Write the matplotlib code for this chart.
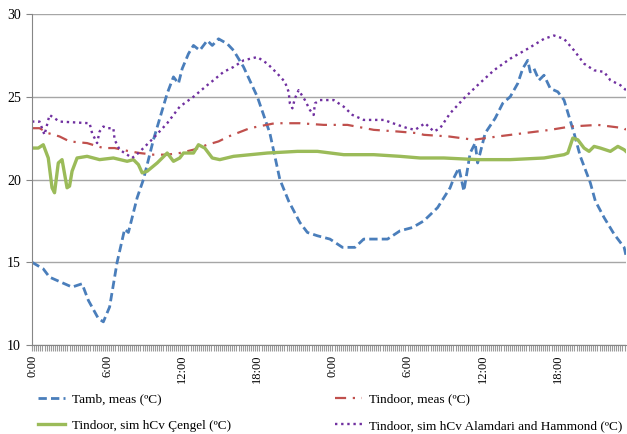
import matplotlib
matplotlib.use("Agg")
import matplotlib.pyplot as plt
from matplotlib.ticker import MultipleLocator

plt.rcParams['font.family'] = ['Liberation Serif', 'DejaVu Serif']

# Time axis in hours from the start of the measurement (two days)
tick_hours = [0, 6, 12, 18, 24, 30, 36, 42]
tick_labels = ["0:00", "6:00", "12:00", "18:00", "0:00", "6:00", "12:00", "18:00"]
x_end = 47.45

# Outdoor air temperature, measured
amb_h = [0, 0.9, 1.4, 3.2, 4.0, 4.5, 5.3, 5.7, 6.2, 6.8, 7.4, 7.7, 8.4, 8.9, 9.7, 10.8,
         11.3, 11.7, 12.0, 12.5, 12.9, 13.4, 14.0, 14.4, 14.9, 15.6, 16.1, 16.9, 18.0,
         19.0, 19.8, 20.5, 21.4, 22.0, 22.8, 23.8, 24.8, 25.8, 26.5, 28.4, 29.4, 30.4,
         31.3, 32.4, 32.9, 33.4, 33.7, 34.1, 34.5, 35.0, 35.4, 35.6, 36.2, 37.0, 37.6,
         38.2, 38.8, 39.2, 39.6, 39.8, 40.1, 40.5, 40.9, 41.4, 42.0, 42.5, 42.9, 43.3,
         43.8, 44.6, 45.0, 45.7, 46.5, 47.3, 47.45]
amb_t = [15.0, 14.6, 14.1, 13.5, 13.7, 12.7, 11.6, 11.4, 12.3, 15.0, 17.0, 16.8, 18.9,
         20.0, 22.4, 25.2, 26.2, 25.8, 26.7, 27.6, 28.1, 27.8, 28.4, 28.1, 28.5, 28.2,
         27.8, 26.8, 25.0, 22.8, 20.0, 18.7, 17.4, 16.8, 16.6, 16.4, 15.9, 15.9, 16.4,
         16.4, 16.9, 17.1, 17.5, 18.3, 18.9, 19.5, 20.1, 20.7, 19.3, 21.6, 22.2, 21.0,
         22.8, 23.7, 24.6, 25.0, 25.8, 26.7, 27.2, 26.5, 26.7, 26.0, 26.3, 25.5, 25.3,
         24.8, 23.8, 22.8, 21.4, 19.8, 18.7, 17.7, 16.7, 15.9, 15.4]

# Indoor air temperature, measured
meas_h = [0, 0.6, 1.3, 2.2, 3.0, 4.4, 5.7, 6.6, 7.8, 8.6, 9.7, 10.8, 11.8, 12.9, 14.0,
          14.9, 15.7, 17.4, 19.4, 21.4, 23.3, 25.2, 27.3, 29.2, 30.8, 31.3, 33.3, 35.3,
          37.2, 39.3, 41.4, 43.0, 45.2, 47.3, 47.45]
meas_t = [23.1, 23.1, 22.8, 22.6, 22.3, 22.2, 21.9, 21.9, 21.7, 21.6, 21.5, 21.5, 21.6,
          21.8, 22.1, 22.3, 22.6, 23.1, 23.4, 23.4, 23.3, 23.3, 23.0, 22.9, 22.8, 22.7,
          22.6, 22.4, 22.6, 22.8, 23.0, 23.2, 23.3, 23.1, 23.0]

# Indoor air temperature, simulated with the Cengel convection coefficient
cengel_h = [0, 0.5, 0.9, 1.3, 1.6, 1.8, 2.1, 2.4, 2.8, 3.0, 3.2, 3.6, 4.4, 5.4, 6.5,
            7.6, 8.1, 8.5, 8.8, 9.2, 10.0, 10.8, 11.3, 11.8, 12.1, 12.9, 13.3, 13.8,
            14.4, 15.0, 16.1, 18.8, 21.2, 22.8, 24.9, 27.3, 29.4, 31.0, 32.9, 35.6,
            38.2, 40.9, 42.5, 42.8, 43.2, 43.6, 44.1, 44.5, 44.9, 45.4, 46.2, 46.8,
            47.3, 47.45]
cengel_t = [21.9, 21.9, 22.1, 21.3, 19.5, 19.2, 21.0, 21.2, 19.5, 19.6, 20.5, 21.3,
            21.4, 21.2, 21.3, 21.1, 21.2, 20.9, 20.4, 20.5, 21.0, 21.6, 21.1, 21.3,
            21.6, 21.6, 22.1, 21.9, 21.3, 21.2, 21.4, 21.6, 21.7, 21.7, 21.5, 21.5,
            21.4, 21.3, 21.3, 21.2, 21.2, 21.3, 21.5, 21.6, 22.5, 22.4, 21.9, 21.7,
            22.0, 21.9, 21.7, 22.0, 21.8, 21.7]

# Indoor air temperature, simulated with the Alamdari and Hammond coefficient
alam_h = [0, 0.6, 1.0, 1.4, 1.8, 2.2, 4.6, 4.8, 5.2, 5.4, 5.7, 6.0, 6.5, 6.6, 7.0, 7.6,
          8.0, 8.5, 8.9, 9.7, 10.8, 11.8, 12.9, 14.0, 14.5, 15.3, 16.1, 16.9, 18.0,
          18.8, 19.6, 20.2, 20.5, 20.6, 20.8, 21.0, 21.3, 21.8, 22.2, 22.5, 22.6, 23.0,
          24.1, 24.9, 25.6, 26.5, 28.1, 29.2, 30.0, 30.6, 31.4, 32.1, 32.6, 33.4, 34.5,
          35.6, 36.9, 38.2, 39.6, 40.9, 41.7, 42.5, 43.3, 44.1, 44.9, 45.7, 46.2, 47.0,
          47.45]
alam_t = [23.5, 23.5, 22.7, 23.9, 23.7, 23.5, 23.4, 22.8, 22.2, 22.9, 23.2, 23.1, 23.1,
          22.4, 21.8, 21.5, 21.3, 21.6, 21.9, 22.5, 23.4, 24.4, 25.0, 25.7, 26.0, 26.5,
          26.8, 27.2, 27.4, 27.0, 26.4, 25.9, 25.3, 24.6, 24.3, 24.9, 25.4, 24.8, 24.2,
          23.9, 24.6, 24.8, 24.8, 24.4, 23.9, 23.6, 23.6, 23.3, 23.1, 23.0, 23.4, 22.9,
          23.1, 24.0, 24.9, 25.7, 26.6, 27.3, 27.9, 28.5, 28.7, 28.5, 27.8, 27.0, 26.6,
          26.5, 26.0, 25.7, 25.4]

fig = plt.figure(figsize=(6.27, 4.34), dpi=100)
ax = fig.add_axes([32 / 627, 1 - 345 / 434, 594 / 627, 331 / 434])

l_amb, = ax.plot(amb_h, amb_t, color='#4a7ebb', lw=2.0, dashes=(3, 1.5),
                 label='Tamb, meas (ºC)')
l_meas, = ax.plot(meas_h, meas_t, color='#c0504d', lw=1.6, dashes=(5, 3, 1, 3),
                  label='Tindoor, meas (ºC)')
l_cen, = ax.plot(cengel_h, cengel_t, color='#9bbb59', lw=2.4, solid_joinstyle='round',
                 label='Tindoor, sim hCv Çengel (ºC)')
l_alam, = ax.plot(alam_h, alam_t, color='#7030a0', lw=1.7, dashes=(1, 1.6),
                  label='Tindoor, sim hCv Alamdari and Hammond (ºC)')

ax.set_xlim(0, x_end)
ax.set_ylim(10, 30)
ax.set_yticks([10, 15, 20, 25, 30])
ax.set_xticks(tick_hours)
ax.set_xticklabels(tick_labels, rotation=90, fontsize=9)
ax.xaxis.set_minor_locator(MultipleLocator(1 / 6))
ax.tick_params(axis='y', labelsize=10, length=4, color='#868686', pad=4)
ax.tick_params(axis='x', which='both', length=4, color='#9a9a9a', width=0.8, pad=3)

ax.grid(axis='y', color='#a6a6a6', lw=1)
ax.set_axisbelow(True)
for side in ['top', 'right']:
    ax.spines[side].set_visible(False)
for side in ['left', 'bottom']:
    ax.spines[side].set_color('#868686')

# legend below the plot, one block per column
leg_kw = dict(loc='upper left', frameon=False, fontsize=9.5, handlelength=2.05,
              handletextpad=0.5, labelspacing=1.05, borderaxespad=0, borderpad=0)
fig.legend(handles=[l_amb, l_cen], bbox_to_anchor=(38 / 627, 1 - 393.5 / 434), **leg_kw)
fig.legend(handles=[l_meas, l_alam], bbox_to_anchor=(335 / 627, 1 - 393.5 / 434), **leg_kw)

fig.savefig('out.png', dpi=100)
